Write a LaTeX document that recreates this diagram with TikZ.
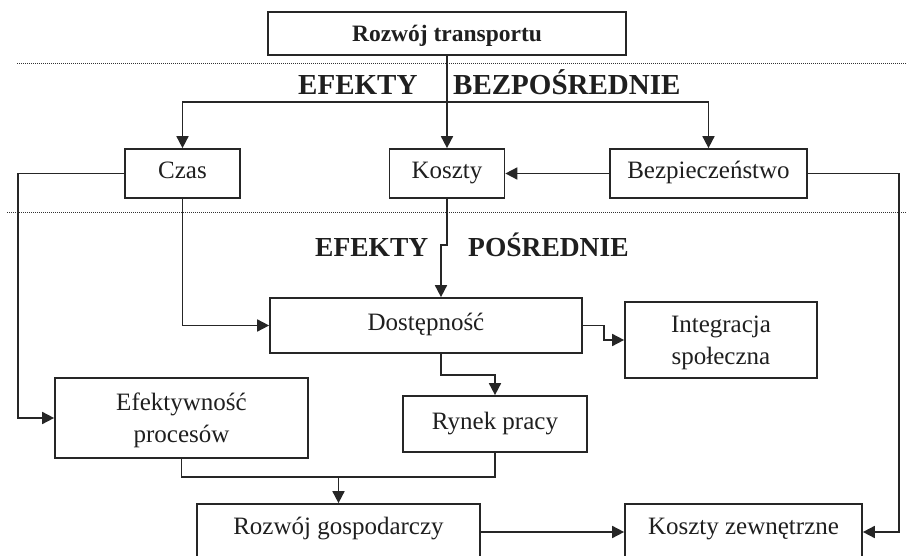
\documentclass[tikz,border=0pt]{standalone}
\usepackage{fontspec}
\setmainfont{Liberation Serif}
\usetikzlibrary{arrows.meta}
\begin{document}
\begin{tikzpicture}[x=1pt,y=-1pt,
  box/.style={draw=black!85, line width=1.7pt, rectangle, inner sep=0pt, align=center,
    font=\fontsize{25}{32}\selectfont, text=black!88, text height=17pt, text depth=6pt},
  box2/.style={box, text height=55pt, text depth=6pt},
  wire/.style={draw=black!85, line width=1.7pt},
  arr/.style={wire, -{Triangle[length=12pt,width=12pt]}},
  sep/.style={draw=black!80, line width=1pt, dash pattern=on 1pt off 1pt},
  big/.style={font=\fontsize{29}{32}\selectfont\bfseries, anchor=base west, inner sep=0pt, text=black!88},
  big2/.style={big, font=\fontsize{27.5}{30}\selectfont\bfseries}]
\clip (0,0) rectangle (906,556);
\fill[white] (0,0) rectangle (906,556);

% dotted separators
\coordinate (d1a) at (17,64);
\coordinate (d1b) at (906,64);
\coordinate (d2a) at (7,213);
\coordinate (d2b) at (906,213);
\draw[sep] (d1a) -- (d1b);
\draw[sep] (d2a) -- (d2b);

% nodes
\node[box, minimum width=358pt, minimum height=43pt, text height=17pt, text depth=0pt,
  font=\fontsize{23.5}{26}\selectfont\bfseries] (rt) at (447,33.5) {Rozwój transportu};
\node[box, minimum width=115pt, minimum height=49pt] (czas) at (182.5,173.5) {Czas};
\node[box, minimum width=115pt, minimum height=49pt] (koszty) at (447,173.5) {Koszty};
\node[box, minimum width=197pt, minimum height=49pt] (bezp) at (708.5,173.5) {Bezpieczeństwo};
\node[box, minimum width=312pt, minimum height=55pt] (dost) at (426,325.5) {Dostępność};
\node[box2, minimum width=192pt, minimum height=76pt] (integ) at (721,340) {Integracja\\społeczna};
\node[box2, minimum width=253pt, minimum height=80pt] (efek) at (181.5,418) {Efektywność\\procesów};
\node[box, minimum width=184pt, minimum height=56pt] (rynek) at (495,424) {Rynek pracy};
\node[box, minimum width=283pt, minimum height=56pt, text depth=13pt] (rg) at (338.5,532) {Rozwój gospodarczy};
\node[box, minimum width=237pt, minimum height=56pt, text depth=13pt] (kz) at (743.5,532) {Koszty zewnętrzne};

% labels
\node[big] (e1) at (298,95) {EFEKTY};
\node[big] (b1) at (453,95) {BEZPOŚREDNIE};
\node[big2] (e2) at (315,257) {EFEKTY};
\node[big2] (p2) at (468,257) {POŚREDNIE};

% connectors
\coordinate (hb) at (447,102);
\draw[arr] (rt.south) -- (koszty.north);
\draw[arr] (hb) -| (czas.north);
\draw[arr] (hb) -| (bezp.north);
\draw[arr] (bezp.west) -- (koszty.east);
\coordinate (rr) at (899,0);
\draw[arr] (bezp.east) -- (rr |- bezp.east) -- (rr |- kz.east) -- (kz.east);
\coordinate (ll) at (18,0);
\draw[arr] (czas.west) -- (ll |- czas.west) -- (ll |- efek.west) -- (efek.west);
\draw[arr] (czas.south) |- (dost.west);
\coordinate (jog) at (447,245);
\coordinate (dx) at (441,0);
\draw[arr] (koszty.south) -- (jog) -- (dx |- jog) -- (dx |- dost.north);
\draw[arr] (dost.east) -- ++(21,0) |- (integ.west);
\coordinate (a375) at (0,375);
\draw[arr] (dx |- dost.south) -- (dx |- a375) -| (rynek.north);
\coordinate (m) at (0,477);
\draw[wire] (rynek.south) -- (rynek.south |- m) -| (efek.south);
\draw[arr] (rg.north |- m) -- (rg.north);
\draw[arr] (rg.east) -- (kz.west);
\end{tikzpicture}
\end{document}
